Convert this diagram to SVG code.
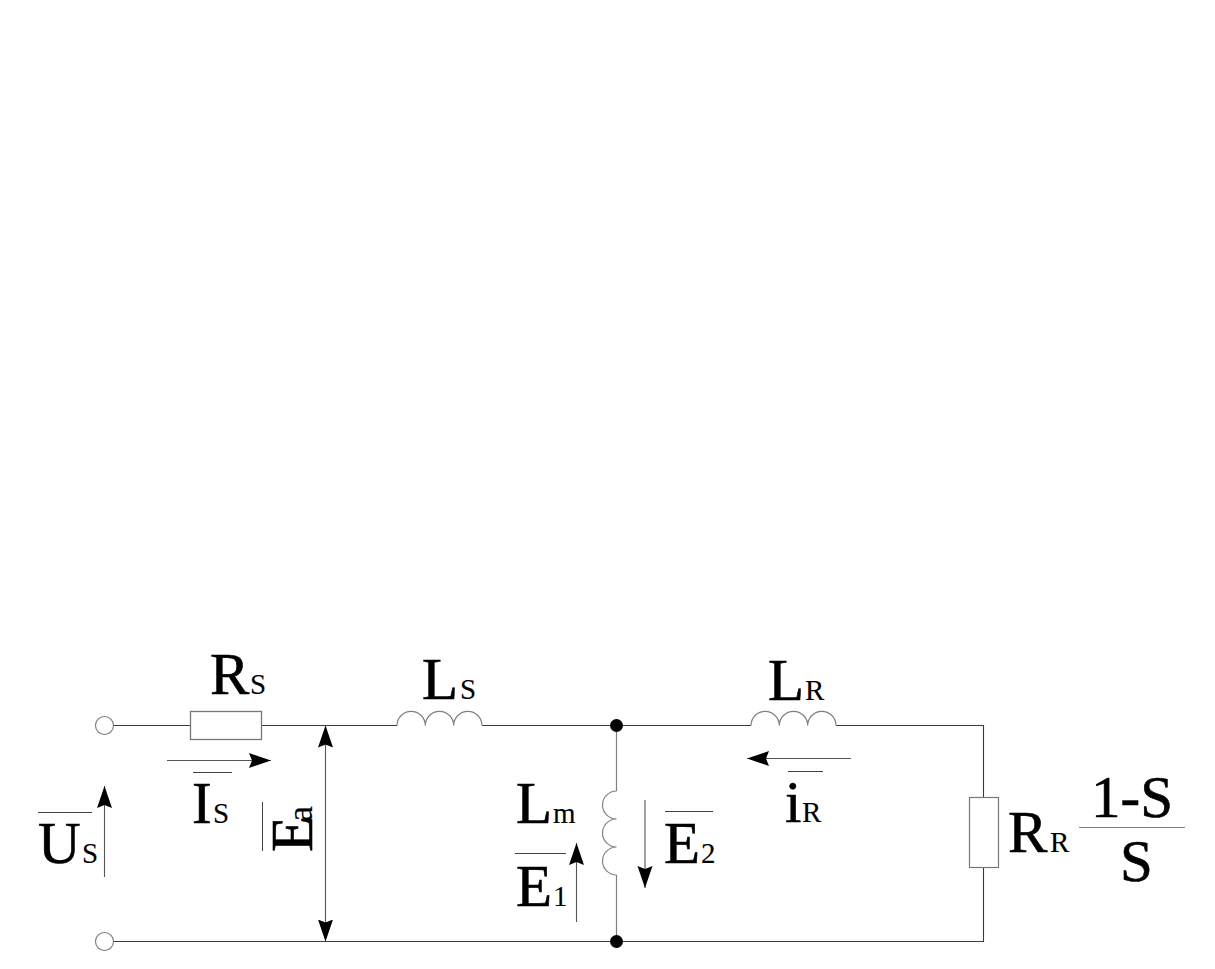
<svg xmlns="http://www.w3.org/2000/svg" width="1215" height="969" viewBox="0 0 1215 969">
<style>
.w{fill:none;stroke:#3a3a3a;stroke-width:1.1}
.g{fill:none;stroke:#808080;stroke-width:1.2}
.a{fill:none;stroke:#555;stroke-width:1.1;marker-end:url(#h)}
.o{fill:none;stroke:#444;stroke-width:1}
text{font-family:"Liberation Serif","Times New Roman",serif;fill:#000}
.b{font-size:59px;stroke:#000;stroke-width:.6}
.s{font-size:29px;stroke:#222;stroke-width:.15}
</style>
<defs>
<marker id="h" markerUnits="userSpaceOnUse" markerWidth="24" markerHeight="18" refX="22" refY="8" orient="auto-start-reverse" viewBox="0 0 24 16">
<path d="M0 0.500L22 8L0 15.500L3 8Z" fill="#000"/>
</marker>
</defs>
<rect width="1215" height="969" fill="#fff"/>
<g id="connectors">
<path class="w" d="M113.500 725.500H190.500M261.500 725.500H397M482 725.500H751M836 725.500H983.500V797.500M983.500 867.500V941.500H113.500"/>
<path class="g" d="M616.500 725.500V791M616.500 875V941.500"/>
</g>
<g id="terminal-top"><circle cx="104.500" cy="725.500" r="9" fill="#fff" stroke="#777" stroke-width="1.100"/></g>
<g id="terminal-bottom"><circle cx="104.500" cy="941.500" r="9" fill="#fff" stroke="#777" stroke-width="1.100"/></g>
<g id="junction-top"><circle cx="616.500" cy="725.500" r="6.500" fill="#000"/></g>
<g id="junction-bottom"><circle cx="616.500" cy="941.500" r="6.500" fill="#000"/></g>
<g id="Rs"><rect x="190.500" y="711.500" width="71" height="28" fill="#fff" stroke="#777" stroke-width="1.300"/>
<text class="b" x="210" y="694">R</text><text class="s" x="250" y="694">S</text></g>
<g id="Ls"><path class="g" d="M397 725.500A14 14 0 0 1 425.300 725.500A14 14 0 0 1 453.700 725.500A14 14 0 0 1 482 725.500"/>
<text class="b" x="422" y="699">L</text><text class="s" x="460" y="699">S</text></g>
<g id="Lr"><path class="g" d="M751 725.500A14 14 0 0 1 779.300 725.500A14 14 0 0 1 807.700 725.500A14 14 0 0 1 836 725.500"/>
<text class="b" x="768" y="700">L</text><text class="s" x="805" y="700">R</text></g>
<g id="Lm"><path class="g" d="M616.500 791A14 14 0 0 0 616.500 819A14 14 0 0 0 616.500 847A14 14 0 0 0 616.500 875"/>
<text class="b" x="516" y="823">L</text><text class="s" x="553" y="823">m</text></g>
<g id="Rr"><rect x="969.500" y="797.500" width="29" height="70" fill="#fff" stroke="#777" stroke-width="1.200"/>
<text class="b" x="1008" y="852">R</text><text class="s" x="1050" y="852">R</text>
<text class="b" x="1091" y="817">1-S</text><path class="g" d="M1079 827.500H1185"/><text class="b" x="1120" y="881">S</text></g>
<g id="Us"><path class="o" d="M38 812.500H92"/><text class="b" x="38" y="863">U</text><text class="s" x="82" y="863">S</text>
<path class="a" d="M104.500 877V786"/></g>
<g id="Is"><path class="a" d="M167 760.500H271"/><path class="o" d="M193 772.500H232"/><text class="b" x="192" y="823">I</text><text class="s" x="213" y="823">S</text></g>
<g id="Ea"><path class="a" style="marker-start:url(#h)" d="M325.500 725.500V941.500"/><path class="o" d="M262.500 802V851"/>
<text class="b" transform="translate(312 852) rotate(-90)">E</text><text class="s" style="font-size:36px" transform="translate(312 822) rotate(-90)">a</text></g>
<g id="E1"><path class="o" d="M515 853.500H566"/><text class="b" x="516" y="906">E</text><text class="s" x="553" y="906">1</text>
<path class="a" d="M576.500 922V843"/></g>
<g id="E2"><path class="a" d="M645 800V888"/><path class="o" d="M665 811.500H713"/><text class="b" x="664" y="863">E</text><text class="s" x="701" y="863">2</text></g>
<g id="ir"><path class="a" d="M851 758.500H747"/><path class="o" d="M788 771.500H823"/><text class="b" x="785" y="822">i</text><text class="s" x="802" y="822">R</text></g>
</svg>
